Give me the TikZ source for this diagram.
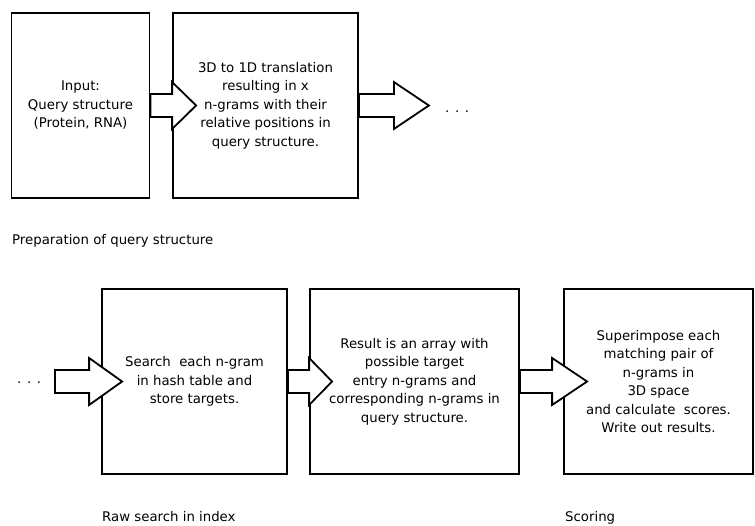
\documentclass[tikz,border=0pt]{standalone}
\usepackage{fontspec}
\setmainfont{DejaVu Sans}
\usepackage{tikz}
\usetikzlibrary{calc, positioning}
\tikzset{
  stepbox/.style={draw, line width=1.8pt, minimum height=185, align=center, inner sep=0pt,
    font=\fontsize{13.3}{18.5}\selectfont},
  fatarrow/.style={draw, line width=1.8pt, fill=white, line join=miter},
  phase/.style={anchor=base west, inner sep=0pt, font=\fontsize{13.3}{18.5}\selectfont}
}
\newcommand{\fatarrow}[3]{%
  \draw[fatarrow] ($(#1)+(0,-11.5)$) -- ($(#2)+(-#3,-11.5)$) -- ($(#2)+(-#3,-23.5)$) -- (#2)
    -- ($(#2)+(-#3,23.5)$) -- ($(#2)+(-#3,11.5)$) -- ($(#1)+(0,11.5)$) -- cycle;}

\begin{document}
\begin{tikzpicture}[x=1pt, y=-1pt]
        \useasboundingbox (0,0) rectangle (755,525);

        \node[stepbox, minimum width=138] (input) at (80.5,105.5) {Input:\\Query structure\\(Protein, RNA)};
        \node[stepbox, minimum width=185] (transl) at (265.5,105.5) {3D to 1D translation\\resulting in x\\n-grams with their\\relative positions in\\query structure.};
        \node[phase] (dotsR) at (445,112) {. . .};
        \node[phase] (prep) at (12,244) {Preparation of query structure};

        \node[stepbox, minimum width=185] (search) at (194.5,381.5) {Search\ \ each n-gram\\in hash table and\\store targets.};
        \node[stepbox, minimum width=209] (result) at (414.5,381.5) {Result is an array with\\possible target\\entry n-grams and\\corresponding n-grams in\\query structure.};
        \node[stepbox, minimum width=189] (scoring) at (658.5,381.5) {Superimpose each\\matching pair of\\n-grams in\\3D space\\and calculate\ \ scores.\\Write out results.};
        \node[phase] (dotsL) at (17,383.5) {. . .};
        \node[phase] (rawlbl) at (102,521) {Raw search in index};
        \node[phase] (scorelbl) at (565,521) {Scoring};

        \coordinate (tip1) at ($(transl.west)+(24,0)$);
        \coordinate (tip2) at ($(transl.east)+(70,0)$);
        \coordinate (tail3) at (55,381.5);
        \coordinate (tip3) at ($(search.west)+(21,0)$);
        \coordinate (tip4) at ($(result.west)+(23,0)$);
        \coordinate (tip5) at ($(scoring.west)+(24,0)$);

        \fatarrow{input.east}{tip1}{24}
        \fatarrow{transl.east}{tip2}{35}
        \fatarrow{tail3}{tip3}{33}
        \fatarrow{search.east}{tip4}{23}
        \fatarrow{result.east}{tip5}{35}
\end{tikzpicture}
\end{document}
